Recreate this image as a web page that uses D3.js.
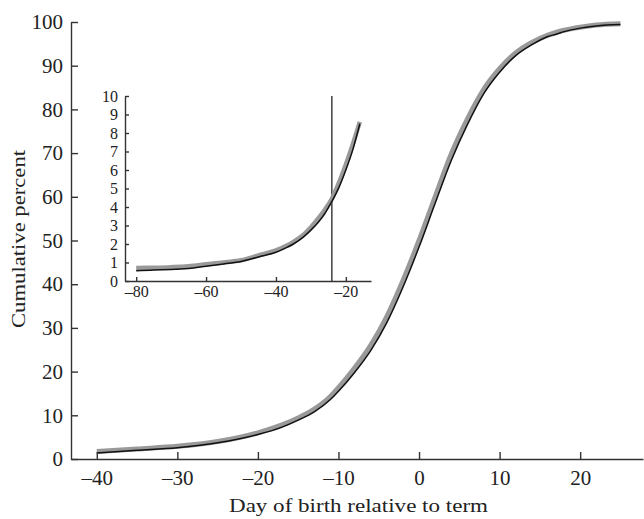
<!DOCTYPE html>
<html>
<head>
<meta charset="utf-8">
<script src="https://cdn.jsdelivr.net/npm/d3@7"></script>
<style>
  body { margin: 0; background: #fff; }
  svg text { font-family: "Liberation Serif", "Times New Roman", serif; fill: #222; }
  .axis path, .axis line { stroke: #333; stroke-width: 1.4; }
</style>
</head>
<body>
<div id="vis"></div>
<script>
// main chart: day relative to term vs cumulative percent
var mainDays = [-40, -35, -30, -25, -20, -17, -15, -13, -11, -10, -8, -6, -4, -2, 0, 2, 4, 6, 8, 10, 12, 14, 16, 17, 18, 20, 22, 25];
var mainBlack = [1.4, 2.0, 2.6, 3.7, 5.6, 7.3, 8.9, 10.8, 13.6, 15.5, 19.8, 24.8, 31.2, 39.3, 48.5, 58.5, 68.3, 76.5, 83.5, 88.5, 92.3, 94.8, 96.7, 97.2, 97.8, 98.6, 99.1, 99.4];
var mainGray = [1.7, 2.3, 2.9, 4.0, 6.0, 7.8, 9.4, 11.4, 14.3, 16.3, 20.8, 26.0, 32.6, 40.8, 50, 60, 69.8, 77.8, 84.5, 89.3, 92.9, 95.3, 97, 97.6, 98.1, 98.8, 99.3, 99.6];

// inset: the early tail
var insetDays = [-80, -75, -70, -65, -60, -55, -50, -45, -40, -37, -35, -32, -30, -28, -26, -24, -22, -20, -18, -16];
var insetBlack = [0.55, 0.6, 0.62, 0.68, 0.8, 0.92, 1.05, 1.3, 1.55, 1.8, 2.0, 2.4, 2.75, 3.15, 3.65, 4.3, 5.05, 6.0, 7.1, 8.5];
var insetGray = [0.7, 0.72, 0.75, 0.8, 0.9, 1.0, 1.12, 1.38, 1.65, 1.9, 2.12, 2.52, 2.9, 3.35, 3.85, 4.45, 5.3, 6.3, 7.4, 8.6];
var cutoffDay = -24;

var mainXTicks = [-40, -30, -20, -10, 0, 10, 20];
var mainYTicks = [0, 10, 20, 30, 40, 50, 60, 70, 80, 90, 100];
var insetXTicks = [-80, -60, -40, -20];
var insetYTicks = [0, 1, 2, 3, 4, 5, 6, 7, 8, 9, 10];

var width = 644, height = 519;

var svg = d3.select("#vis").append("svg")
  .attr("width", width)
  .attr("height", height);

function dash(d) { return d < 0 ? "\u2013" + Math.abs(d) : String(d); }

var x = d3.scaleLinear().domain([-43.2, 27.8]).range([71, 643]);
var y = d3.scaleLinear().domain([0, 100]).range([459, 22]);

var xi = d3.scaleLinear().domain([-83.2, -12.8]).range([125, 371]);
var yi = d3.scaleLinear().domain([0, 10]).range([281, 96]);

// main axes
svg.append("g")
  .attr("class", "axis main")
  .attr("transform", "translate(0," + y(0) + ")")
  .call(d3.axisBottom(x).tickValues(mainXTicks).tickFormat(dash)
    .tickSizeInner(-7).tickSizeOuter(0).tickPadding(11));

svg.append("g")
  .attr("class", "axis main")
  .attr("transform", "translate(" + x.range()[0] + ",0)")
  .call(d3.axisLeft(y).tickValues(mainYTicks)
    .tickSizeInner(-7).tickSizeOuter(0).tickPadding(8));

svg.selectAll(".main text").style("font-size", "21px");

// inset axes
svg.append("g")
  .attr("class", "axis inset")
  .attr("transform", "translate(0," + yi(0) + ")")
  .call(d3.axisBottom(xi).tickValues(insetXTicks).tickFormat(dash)
    .tickSizeInner(-4).tickSizeOuter(0).tickPadding(5));

svg.append("g")
  .attr("class", "axis inset")
  .attr("transform", "translate(" + xi.range()[0] + ",0)")
  .call(d3.axisLeft(yi).tickValues(insetYTicks)
    .tickSizeInner(-4).tickSizeOuter(0).tickPadding(7));

svg.selectAll(".inset text").style("font-size", "16px");

// cutoff line in inset
svg.append("line")
  .attr("x1", xi(cutoffDay)).attr("x2", xi(cutoffDay))
  .attr("y1", yi(10)).attr("y2", yi(0))
  .attr("stroke", "#222")
  .attr("stroke-width", 1.3);

function drawPair(days, gray, black, sx, sy, grayWidth) {
  var line = d3.line()
    .x(function(d) { return sx(d[0]); })
    .y(function(d) { return sy(d[1]); })
    .curve(d3.curveMonotoneX);
  svg.append("path")
    .datum(d3.zip(days, gray))
    .attr("fill", "none")
    .attr("stroke", "#999")
    .attr("stroke-width", grayWidth)
    .attr("d", line);
  svg.append("path")
    .datum(d3.zip(days, black))
    .attr("fill", "none")
    .attr("stroke", "#111")
    .attr("stroke-width", 1.5)
    .attr("d", line);
}

drawPair(mainDays, mainGray, mainBlack, x, y, 5);
drawPair(insetDays, insetGray, insetBlack, xi, yi, 4.5);

// axis titles
svg.append("text")
  .attr("x", 358.5)
  .attr("y", 512)
  .attr("text-anchor", "middle")
  .attr("textLength", 259)
  .attr("lengthAdjust", "spacingAndGlyphs")
  .style("font-size", "19px")
  .text("Day of birth relative to term");

svg.append("text")
  .attr("transform", "translate(25,239) rotate(-90)")
  .attr("text-anchor", "middle")
  .attr("textLength", 178)
  .attr("lengthAdjust", "spacingAndGlyphs")
  .style("font-size", "19px")
  .text("Cumulative percent");
</script>
</body>
</html>
